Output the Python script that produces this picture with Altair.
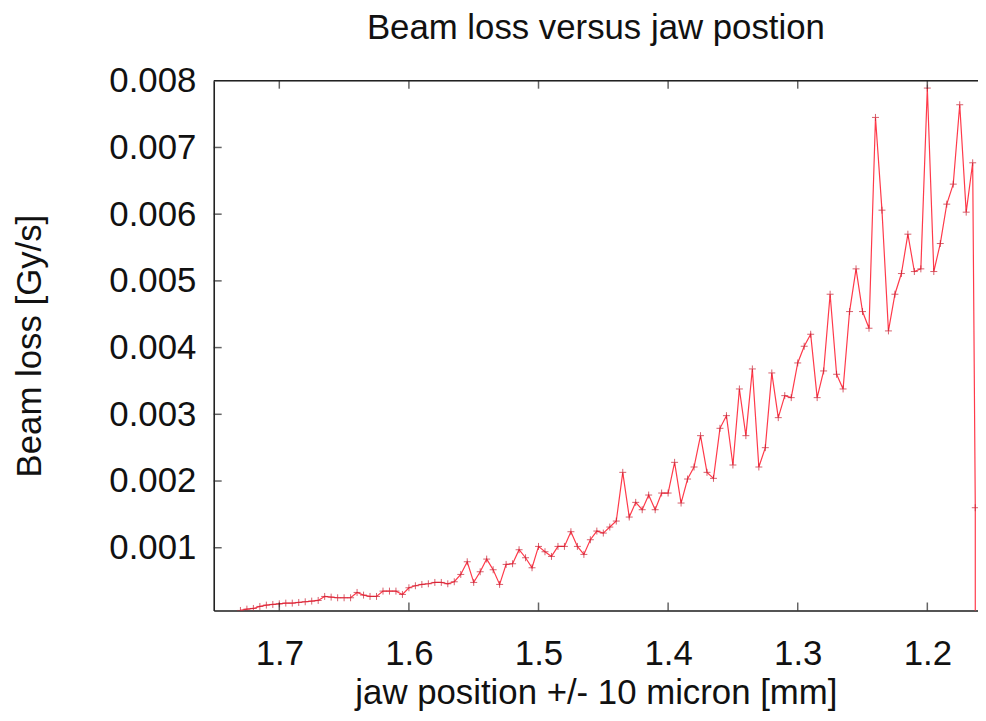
import altair as alt
import pandas as pd

jaw_position = [
    1.730, 1.725, 1.720, 1.715, 1.710, 1.705, 1.700, 1.695, 1.690, 1.685,
    1.680, 1.675, 1.670, 1.665, 1.660, 1.655, 1.650, 1.645, 1.640, 1.635,
    1.630, 1.625, 1.620, 1.615, 1.610, 1.605, 1.600, 1.595, 1.590, 1.585,
    1.580, 1.575, 1.570, 1.565, 1.560, 1.555, 1.550, 1.545, 1.540, 1.535,
    1.530, 1.525, 1.520, 1.515, 1.510, 1.505, 1.500, 1.495, 1.490, 1.485,
    1.480, 1.475, 1.470, 1.465, 1.460, 1.455, 1.450, 1.445, 1.440, 1.435,
    1.430, 1.425, 1.420, 1.415, 1.410, 1.405, 1.400, 1.395, 1.390, 1.385,
    1.380, 1.375, 1.370, 1.365, 1.360, 1.355, 1.350, 1.345, 1.340, 1.335,
    1.330, 1.325, 1.320, 1.315, 1.310, 1.305, 1.300, 1.295, 1.290, 1.285,
    1.280, 1.275, 1.270, 1.265, 1.260, 1.255, 1.250, 1.245, 1.240, 1.235,
    1.230, 1.225, 1.220, 1.215, 1.210, 1.205, 1.200, 1.195, 1.190, 1.185,
    1.180, 1.175, 1.170, 1.165, 1.163, 1.163,
]

beam_loss = [
    0.00006, 0.00008, 0.00009, 0.00012, 0.00014, 0.00015, 0.00016, 0.00017, 0.00017, 0.00018,
    0.00019, 0.00020, 0.00021, 0.00027, 0.00026, 0.00025, 0.00025, 0.00025, 0.00033, 0.00029,
    0.00027, 0.00027, 0.00035, 0.00035, 0.00035, 0.00030, 0.00040, 0.00043, 0.00045, 0.00046,
    0.00048, 0.00048, 0.00046, 0.00049, 0.00060, 0.00079, 0.00048, 0.00064, 0.00083, 0.00067,
    0.00045, 0.00075, 0.00076, 0.00097, 0.00085, 0.00070, 0.00102, 0.00094, 0.00087, 0.00102,
    0.00102, 0.00124, 0.00102, 0.00090, 0.00112, 0.00125, 0.00122, 0.00131, 0.00140, 0.00213,
    0.00146, 0.00168, 0.00157, 0.00179, 0.00157, 0.00182, 0.00182, 0.00228, 0.00167, 0.00203,
    0.00221, 0.00268, 0.00213, 0.00204, 0.00279, 0.00298, 0.00224, 0.00338, 0.00268, 0.00368,
    0.00221, 0.00250, 0.00362, 0.00295, 0.00328, 0.00325, 0.00377, 0.00402, 0.00420, 0.00325,
    0.00365, 0.00480, 0.00360, 0.00338, 0.00454, 0.00518, 0.00454, 0.00429, 0.00745, 0.00606,
    0.00425, 0.00480, 0.00511, 0.00570, 0.00514, 0.00518, 0.00789, 0.00514, 0.00556, 0.00615,
    0.00645, 0.00764, 0.00603, 0.00677, 0.00160, 0.00000,
]

x_tick_values = [1.7, 1.6, 1.5, 1.4, 1.3, 1.2]
y_tick_values = [0.001, 0.002, 0.003, 0.004, 0.005, 0.006, 0.007, 0.008]

W, H = 769, 533
FONT = "Liberation Sans"
FS = 35

df = pd.DataFrame({"x": jaw_position, "y": beam_loss, "i": range(len(beam_loss))})
xt = pd.DataFrame({"x": x_tick_values})
yt = pd.DataFrame({"y": y_tick_values[:-1]})

x_scale = alt.Scale(domain=[1.1609, 1.7506], reverse=True, nice=False, zero=False)
y_scale = alt.Scale(domain=[0.00006, 0.008], nice=False, zero=False)

x_axis = alt.Axis(
    values=x_tick_values, format=".1f", ticks=False, grid=False,
    domain=True, domainColor="#222", domainWidth=1.6,
    labelFont=FONT, labelFontSize=FS, labelColor="#111", labelPadding=26,
    title="jaw position +/- 10 micron [mm]", titleFont=FONT, titleFontSize=FS,
    titleFontWeight="normal", titleColor="#111", titlePadding=5,
)
y_axis = alt.Axis(
    values=y_tick_values, format=".3f", ticks=False, grid=False,
    domain=True, domainColor="#222", domainWidth=1.6,
    labelFont=FONT, labelFontSize=FS, labelColor="#111", labelPadding=18,
    title="Beam loss [Gy/s]", titleFont=FONT, titleFontSize=FS,
    titleFontWeight="normal", titleColor="#111", titlePadding=62,
)

X = alt.X("x:Q", scale=x_scale, axis=x_axis)
Y = alt.Y("y:Q", scale=y_scale, axis=y_axis)

line = alt.Chart(df).mark_line(color="#ff3a4a", strokeWidth=1.2, clip=True).encode(
    x=X, y=Y, order=alt.Order("i:Q")
)
points = alt.Chart(df).mark_point(
    shape="M-1,0L1,0M0,-1L0,1", size=49, color="#c81e30", strokeWidth=1, clip=True
).encode(x=X, y=Y)

xticks_bottom = alt.Chart(xt).mark_tick(color="#222", thickness=1.5, size=8).encode(
    x=X, y=alt.value(H - 4)
)
xticks_top = alt.Chart(xt).mark_tick(color="#222", thickness=1.5, size=8).encode(
    x=X, y=alt.value(4)
)
yticks_left = alt.Chart(yt).mark_tick(color="#222", thickness=1.5, size=8).encode(
    y=Y, x=alt.value(4)
)
top_border = alt.Chart(pd.DataFrame({"a": [0]})).mark_rule(color="#222", strokeWidth=1.6).encode(
    x=alt.value(0), x2=alt.value(W), y=alt.value(0)
)

chart = alt.layer(line, points, xticks_bottom, xticks_top, yticks_left, top_border).properties(
    width=W,
    height=H,
    title=alt.TitleParams(
        "Beam loss versus jaw postion", font=FONT, fontSize=FS, fontWeight="normal",
        color="#111", anchor="middle", offset=18,
    ),
    autosize=alt.AutoSizeParams(type="none"),
    padding={"left": 207, "top": 71, "right": 0, "bottom": 101},
).configure_view(stroke=None).configure(background="white")

chart.save("out.html", embed_options={"renderer": "svg", "actions": False})
